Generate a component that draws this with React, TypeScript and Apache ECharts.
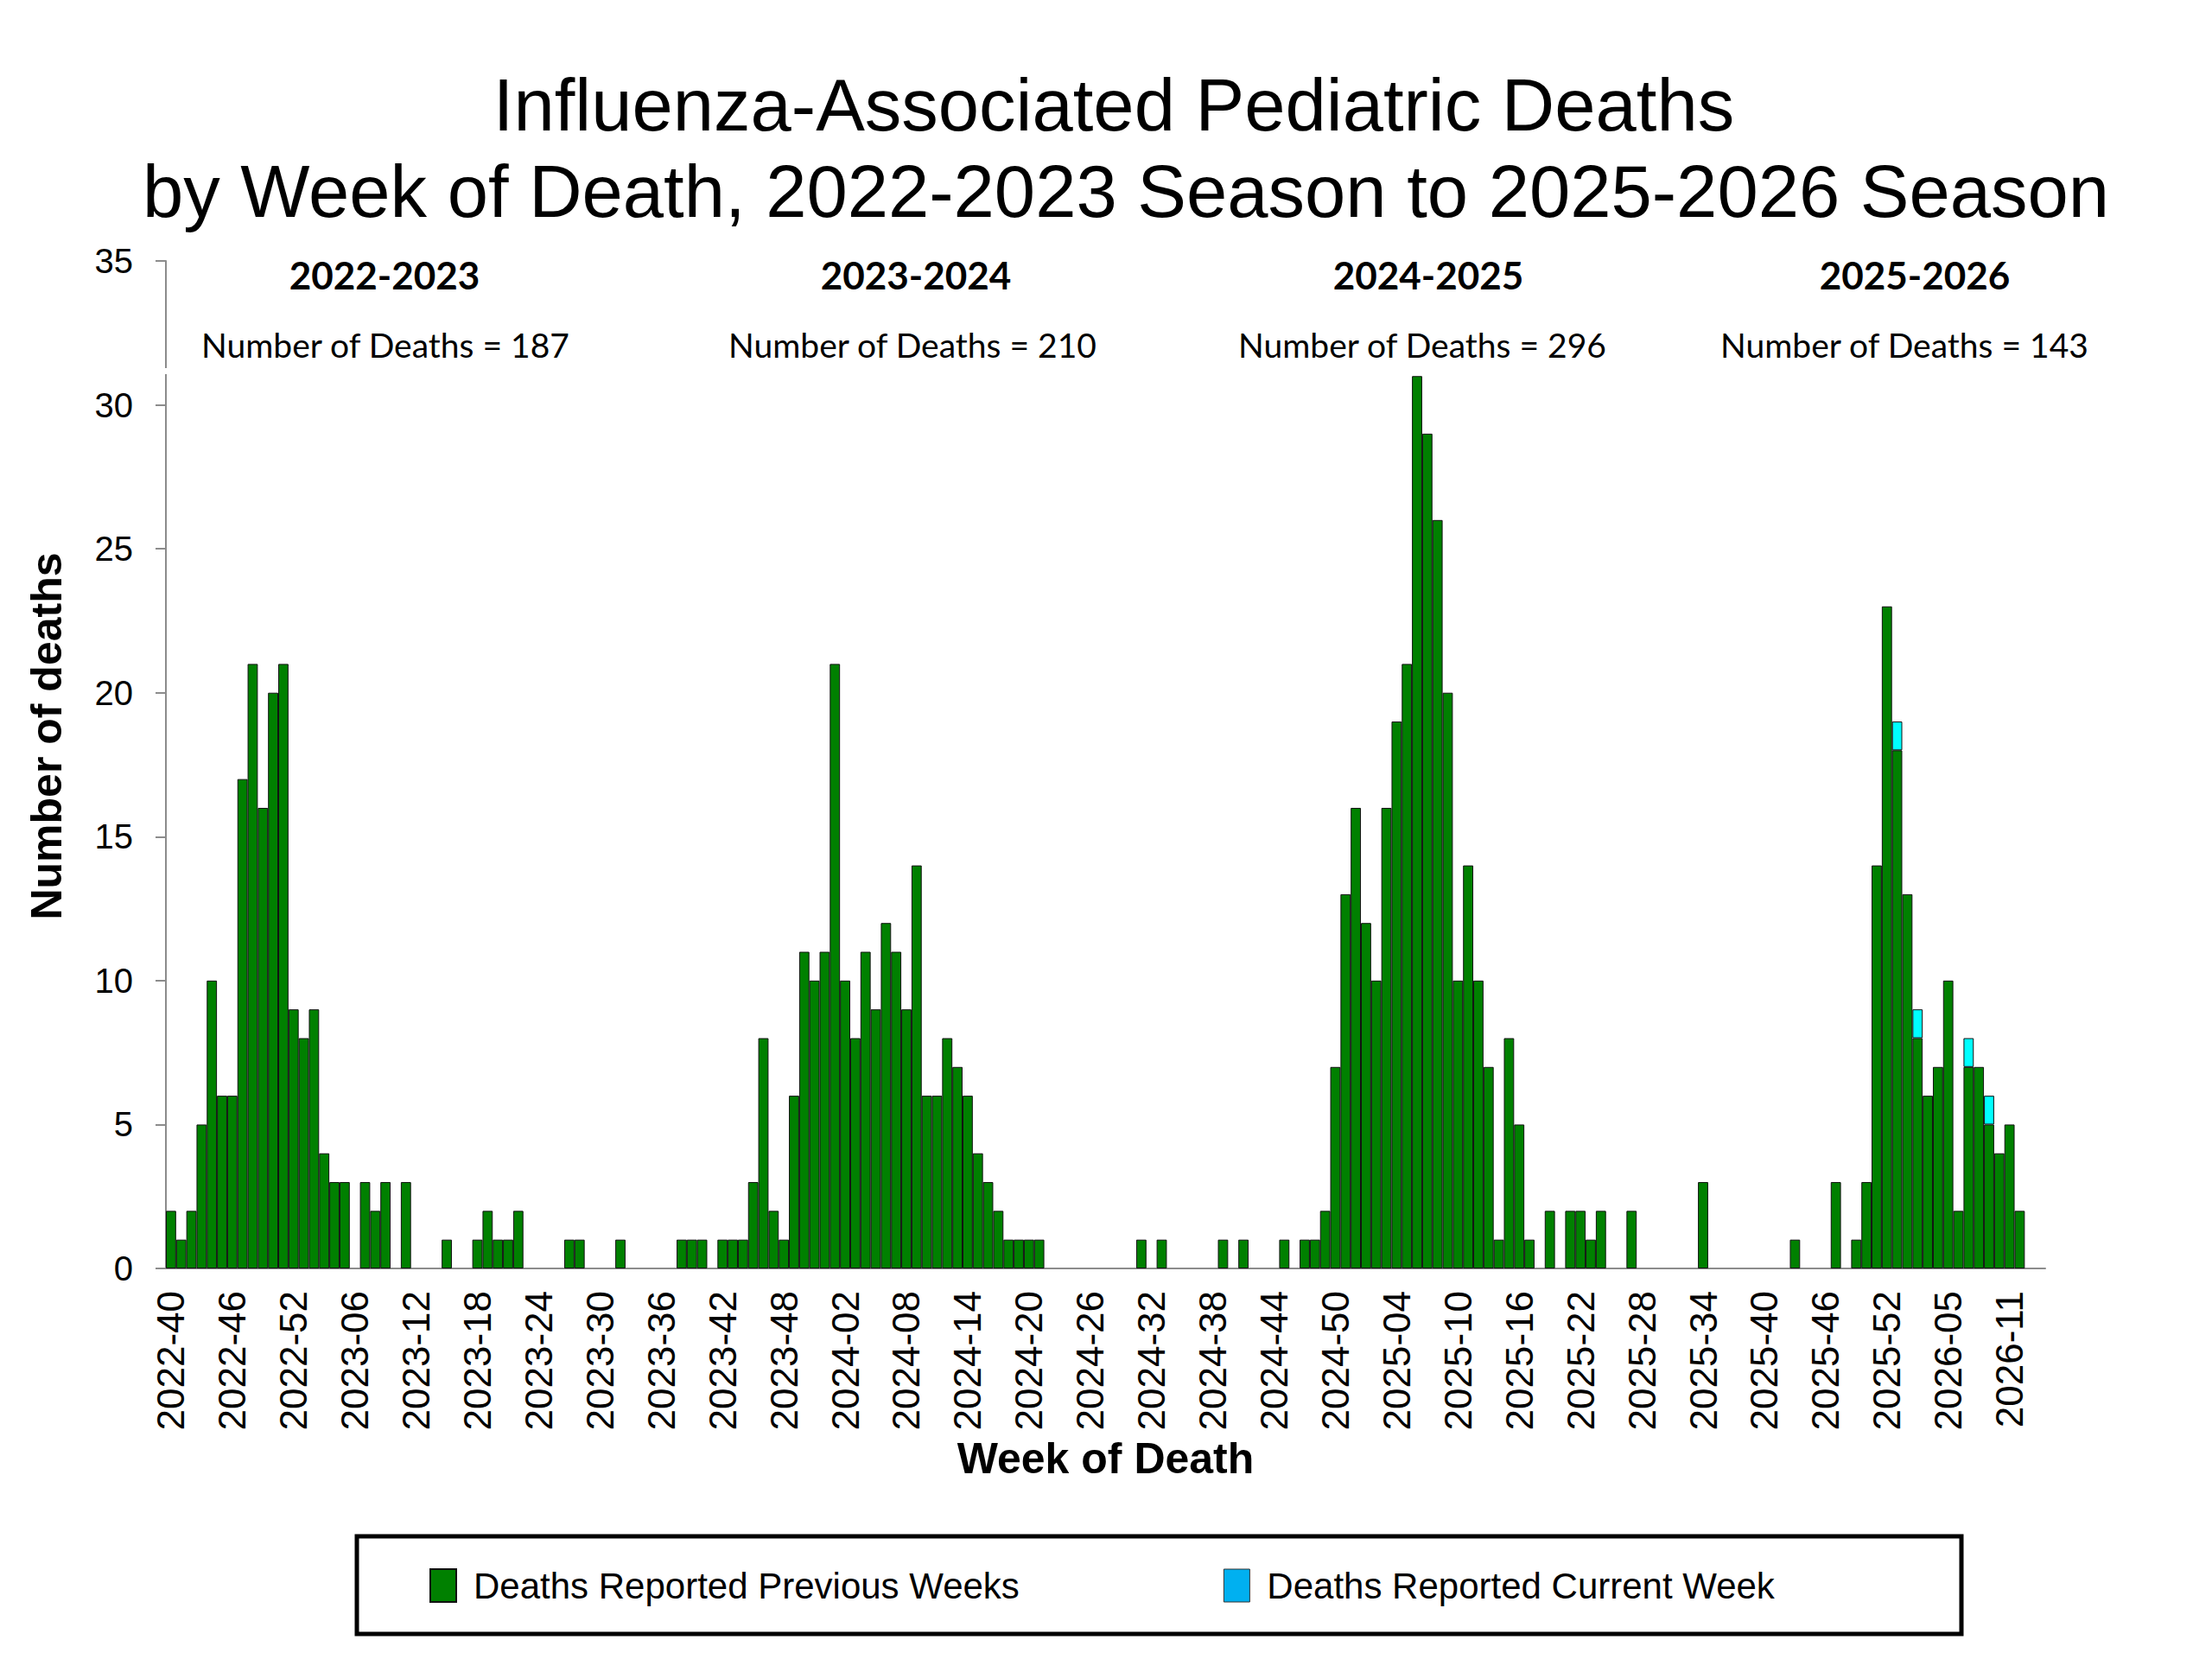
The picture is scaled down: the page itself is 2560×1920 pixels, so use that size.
import React, { useEffect, useRef } from 'react';
import * as echarts from 'echarts';

// MMWR weeks per year (2025 has a week 53)
const weeksInYear: Record<number, number> = { 2022: 52, 2023: 52, 2024: 52, 2025: 53, 2026: 52 };
const firstYear = 2022;
const firstWeek = 40;
const weekCount = 184; // 2022-40 .. 2026-14

const seasonNames = ['2022-2023', '2023-2024', '2024-2025', '2025-2026'];
const seasonTotals = [187, 210, 296, 143];

// deaths reported in previous weeks, week 40 .. week 39 of each season
const season2223 = [
  2, 1, 2, 5, 10, 6, 6, 17, 21, 16, 20, 21, 9,
  8, 9, 4, 3, 3, 0, 3, 2, 3, 0, 3, 0, 0, 0, 1, 0, 0, 1, 2, 1, 1, 2,
  0, 0, 0, 0, 1, 1, 0, 0, 0, 1, 0, 0, 0, 0, 0, 1, 1,
];
const season2324 = [
  1, 0, 1, 1, 1, 3, 8, 2, 1, 6, 11, 10, 11,
  21, 10, 8, 11, 9, 12, 11, 9, 14, 6, 6, 8, 7, 6, 4, 3, 2, 1, 1, 1, 1,
  0, 0, 0, 0, 0, 0, 0, 0, 0, 1, 0, 1, 0, 0, 0, 0, 0, 1,
];
const season2425 = [
  0, 1, 0, 0, 0, 1, 0, 1, 1, 2, 7, 13, 16,
  12, 10, 16, 19, 21, 31, 29, 26, 20, 10, 14, 10, 7, 1, 8, 5, 1,
  0, 2, 0, 2, 2, 1, 2, 0, 0, 2, 0, 0, 0, 0, 0, 0, 3, 0, 0, 0, 0, 0,
];
// 2025-40 .. 2026-14
const season2526 = [
  0, 0, 0, 1, 0, 0, 0, 3, 0, 1, 3, 14, 23, 18,
  13, 8, 6, 7, 10, 2, 7, 7, 5, 4, 5, 2, 0, 0,
];
const current2526 = [
  0, 0, 0, 0, 0, 0, 0, 0, 0, 0, 0, 0, 0, 1,
  0, 1, 0, 0, 0, 0, 1, 0, 1, 0, 0, 0, 0, 0,
];

const categories: string[] = [];
{
  let y = firstYear;
  let w = firstWeek;
  while (categories.length < weekCount) {
    categories.push(`${y}-${String(w).padStart(2, '0')}`);
    w += 1;
    if (w > weeksInYear[y]) {
      w = 1;
      y += 1;
    }
  }
}

const previousWeeks = [...season2223, ...season2324, ...season2425, ...season2526];
const priorSeasonWeeks = season2223.length + season2324.length + season2425.length;
const currentWeek = [...new Array(priorSeasonWeeks).fill(0), ...current2526];

const noZero = (v: number) => (v === 0 ? null : v);

const seasonLabelX = [445, 1060, 1653, 2216];
const totalLabelX = [446, 1056, 1646, 2204];

const FONT = 'Liberation Sans, Arial, sans-serif';
const NOTE_FONT = 'Lato, Open Sans, sans-serif';

const App: React.FC = () => {
  const ref = useRef<HTMLDivElement>(null);

  useEffect(() => {
    if (!ref.current) return;
    const chart = echarts.init(ref.current, undefined, { renderer: 'svg' });

    const notes: any[] = [];
    seasonNames.forEach((s, i) => {
      notes.push({
        type: 'text', x: seasonLabelX[i], y: 318, z: 110,
        style: { text: s, fontFamily: NOTE_FONT, fontSize: 44, fontWeight: 'bold', fill: '#000', align: 'center', verticalAlign: 'middle' },
      });
      notes.push({
        type: 'text', x: totalLabelX[i], y: 399, z: 110,
        style: { text: `Number of Deaths = ${seasonTotals[i]}`, fontFamily: NOTE_FONT, fontSize: 39, fill: '#000', align: 'center', verticalAlign: 'middle' },
      });
    });

    const option: echarts.EChartsOption = {
      animation: false,
      backgroundColor: '#fff',
      grid: { left: 192, top: 302, width: 2175, height: 1166, containLabel: false },
      legend: {
        left: 492,
        top: 1809,
        icon: 'rect',
        itemWidth: 30,
        itemHeight: 38,
        itemGap: 236,
        selectedMode: false,
        textStyle: { fontFamily: FONT, fontSize: 42, color: '#000', padding: [0, 0, 0, 15] },
        data: [
          { name: 'Deaths Reported Previous Weeks' },
          { name: 'Deaths Reported Current Week', itemStyle: { color: '#00B0F0', borderColor: '#333', borderWidth: 1 } },
        ],
      },
      xAxis: {
        type: 'category',
        data: categories,
        boundaryGap: true,
        axisLine: { lineStyle: { color: '#8c8c8c', width: 2 } },
        axisTick: { interval: 1, length: 12, lineStyle: { color: '#8c8c8c', width: 2 } },
        axisLabel: { interval: 5, rotate: 90, fontFamily: FONT, fontSize: 44, color: '#000', margin: 26 },
        name: 'Week of Death',
        nameLocation: 'middle',
        nameGap: 192,
        nameTextStyle: { fontFamily: FONT, fontSize: 50, fontWeight: 'bold', color: '#000' },
      },
      yAxis: {
        type: 'value',
        min: 0,
        max: 35,
        interval: 5,
        splitLine: { show: false },
        axisLine: { show: true, lineStyle: { color: '#8c8c8c', width: 2 } },
        axisTick: { show: true, length: 12, lineStyle: { color: '#8c8c8c', width: 2 } },
        axisLabel: { fontFamily: FONT, fontSize: 40, color: '#000', margin: 38 },
      },
      series: [
        {
          name: 'Deaths Reported Previous Weeks',
          type: 'bar',
          stack: 'deaths',
          barCategoryGap: '0%',
          data: previousWeeks.map(noZero),
          itemStyle: { color: '#008000', borderColor: '#111', borderWidth: 1 },
        },
        {
          name: 'Deaths Reported Current Week',
          type: 'bar',
          stack: 'deaths',
          barCategoryGap: '0%',
          data: currentWeek.map(noZero),
          itemStyle: { color: '#00FFFF', borderColor: '#111', borderWidth: 1 },
        },
      ],
      graphic: [
        {
          type: 'text', x: 1289, y: 121,
          style: { text: 'Influenza-Associated Pediatric Deaths', fontFamily: FONT, fontSize: 85, fill: '#000', align: 'center', verticalAlign: 'middle' },
        },
        {
          type: 'text', x: 1303, y: 221,
          style: { text: 'by Week of Death, 2022-2023 Season to 2025-2026 Season', fontFamily: FONT, fontSize: 85, fill: '#000', align: 'center', verticalAlign: 'middle' },
        },
        {
          type: 'text', x: 54, y: 852, rotation: Math.PI / 2,
          style: { text: 'Number of deaths', fontFamily: FONT, fontSize: 50, fontWeight: 'bold', fill: '#000', align: 'center', verticalAlign: 'middle' },
        },
        // small break in the y axis below the season notes
        { type: 'rect', z: 100, shape: { x: 184, y: 426, width: 16, height: 7 }, style: { fill: '#fff' } },
        ...notes,
        {
          type: 'rect', z: 100,
          shape: { x: 413, y: 1778, width: 1857, height: 113 },
          style: { fill: 'none', stroke: '#000', lineWidth: 5 },
        },
      ],
    };

    chart.setOption(option);
    return () => chart.dispose();
  }, []);

  return <div ref={ref} style={{ position: 'absolute', left: 0, top: 0, width: 2560, height: 1920, background: '#fff' }} />;
};

export default App;
